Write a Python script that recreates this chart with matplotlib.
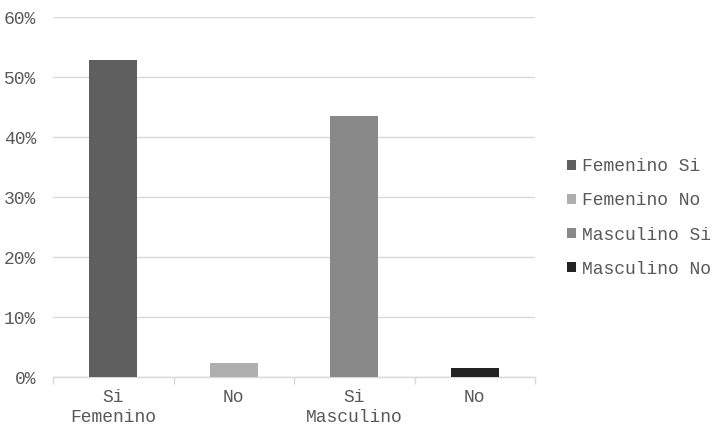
import matplotlib
matplotlib.use('Agg')
import matplotlib.pyplot as plt
from matplotlib.ticker import FuncFormatter, FixedLocator

# datos (porcentaje)
tick_labels = ['Si\nFemenino', 'No', 'Si\nMasculino', 'No']
series_names = ['Femenino Si', 'Femenino No', 'Masculino Si', 'Masculino No']
values = [52.8, 2.3, 43.5, 1.5]
bar_colors = ['#5f5f5f', '#afafaf', '#898989', '#232323']

plt.rcParams['font.family'] = ['Liberation Mono', 'DejaVu Sans Mono']
text_color = '#595959'
grid_color = '#d9d9d9'

fig = plt.figure(figsize=(7.14, 4.30), dpi=100)
ax = fig.add_axes([53 / 714, 1 - 377 / 430, (535 - 53) / 714, (377 - 17) / 430])

handles = []
for i, (name, v, c) in enumerate(zip(series_names, values, bar_colors)):
    b = ax.bar(i, v, width=0.4, color=c, label=name, zorder=3)
    handles.append(b)

ax.set_xlim(-0.5, len(values) - 0.5)
ax.set_ylim(0, 60)
ax.set_yticks(range(0, 61, 10))
ax.yaxis.set_major_formatter(FuncFormatter(lambda v, p: f'{int(v)}%'))
ax.grid(axis='y', color=grid_color, linewidth=1, zorder=0)

ax.set_xticks(range(len(values)))
ax.set_xticklabels(tick_labels)
ax.xaxis.set_minor_locator(FixedLocator([x - 0.5 for x in range(len(values) + 1)]))
ax.tick_params(axis='x', which='major', length=0, pad=9, labelsize=13, labelcolor=text_color)
ax.tick_params(axis='x', which='minor', length=5, color=grid_color, width=1)
ax.tick_params(axis='y', length=0, pad=12, labelsize=13, labelcolor=text_color)

for s in ['top', 'right', 'left']:
    ax.spines[s].set_visible(False)
ax.spines['bottom'].set_color(grid_color)
ax.spines['bottom'].set_linewidth(1)

fig.legend(handles=handles, labels=series_names, loc='center left',
           bbox_to_anchor=(560 / 714, 1 - 218 / 430), frameon=False,
           fontsize=13, labelcolor=text_color, handlelength=0.5, handleheight=0.5,
           handletextpad=0.3, labelspacing=0.95, borderaxespad=0)

fig.savefig('out.png', dpi=100)
